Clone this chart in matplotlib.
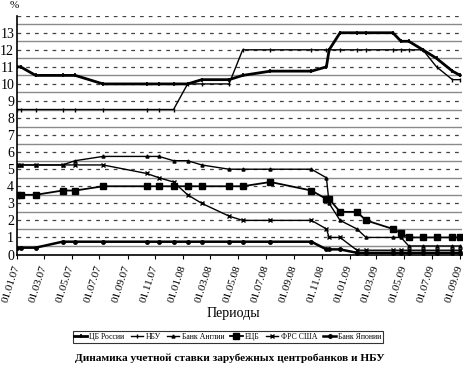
import matplotlib
matplotlib.use("Agg")
import matplotlib.pyplot as plt
import pandas as pd
import numpy as np

plt.rcParams['font.family'] = ['Liberation Serif', 'DejaVu Serif']

# ---- data ----
dates_cbr = ["2007-01-01","2007-01-09","2007-02-11","2007-04-11","2007-05-09","2007-07-09",
             "2007-10-13","2007-11-09","2007-12-11","2008-01-11","2008-02-11","2008-04-11",
             "2008-05-11","2008-07-11","2008-10-09","2008-11-11","2008-11-17","2008-12-11",
             "2009-01-17","2009-02-06","2009-04-06","2009-04-24","2009-05-11","2009-06-11",
             "2009-07-11","2009-08-15","2009-09-01"]
cbr = [11.0, 11.0, 10.5, 10.5, 10.5, 10.0, 10.0, 10.0, 10.0, 10.0, 10.25, 10.25,
       10.5, 10.75, 10.75, 11.0, 12.0, 13.0, 13.0, 13.0, 13.0, 12.5, 12.5, 12.0,
       11.5, 10.75, 10.5]

dates_common = ["2007-01-01","2007-01-09","2007-02-11","2007-04-11","2007-05-09","2007-07-09",
                "2007-10-13","2007-11-09","2007-12-11","2008-01-11","2008-02-11","2008-04-11",
                "2008-05-11","2008-07-11","2008-10-09","2008-11-11","2008-11-17","2008-12-11",
                "2009-01-17","2009-02-06","2009-04-06","2009-04-24","2009-05-11","2009-06-11",
                "2009-07-11","2009-08-15","2009-09-01"]
nbu = [8.5, 8.5, 8.5, 8.5, 8.5, 8.5, 8.5, 8.5, 8.5, 10.0, 10.0, 10.0,
       12.0, 12.0, 12.0, 12.0, 12.0, 12.0, 12.0, 12.0, 12.0, 12.0, 12.0, 12.0,
       11.0, 10.25, 10.25]
boe = [5.25, 5.25, 5.25, 5.25, 5.5, 5.75, 5.75, 5.75, 5.5, 5.5, 5.25, 5.0,
       5.0, 5.0, 5.0, 4.5, 3.0, 2.0, 1.5, 1.0, 1.0, 1.0, 0.5, 0.5,
       0.5, 0.5, 0.5]
ecb = [3.5, 3.5, 3.5, 3.75, 3.75, 4.0, 4.0, 4.0, 4.0, 4.0, 4.0, 4.0,
       4.0, 4.25, 3.75, 3.25, 3.25, 2.5, 2.5, 2.0, 1.5, 1.25, 1.0, 1.0,
       1.0, 1.0, 1.0]
fed = [5.25, 5.25, 5.25, 5.25, 5.25, 5.25, 4.75, 4.5, 4.25, 3.5, 3.0, 2.25,
       2.0, 2.0, 2.0, 1.5, 1.0, 1.0, 0.25, 0.25, 0.25, 0.25, 0.25, 0.25,
       0.25, 0.25, 0.25]
boj = [0.4, 0.4, 0.4, 0.75, 0.75, 0.75, 0.75, 0.75, 0.75, 0.75, 0.75, 0.75,
       0.75, 0.75, 0.75, 0.3, 0.3, 0.3, 0.1, 0.1, 0.1, 0.1, 0.1, 0.1,
       0.1, 0.1, 0.1]

series_names = ["ЦБ России", "НБУ", "Банк Англии", "ЕЦБ", "ФРС США", "Банк Японии"]
tick_dates = ["2007-01-01","2007-03-01","2007-05-01","2007-07-01","2007-09-01","2007-11-01",
              "2008-01-01","2008-03-01","2008-05-01","2008-07-01","2008-09-01","2008-11-01",
              "2009-01-01","2009-03-01","2009-05-01","2009-07-01","2009-09-01"]
tick_labels = ["01.01.07","01.03.07","01.05.07","01.07.07","01.09.07","01.11.07",
               "01.01.08","01.03.08","01.05.08","01.07.08","01.09.08","01.11.08",
               "01.01.09","01.03.09","01.05.09","01.07.09","01.09.09"]

# ---- figure ----
fig = plt.figure(figsize=(4.66, 3.79), dpi=100)
ax = fig.add_axes([17/466, 1-254.5/379, (462-17)/466, (254.5-15.7)/379])

xc = pd.to_datetime(dates_common)
xr = pd.to_datetime(dates_cbr)

styles = [
    (xr, cbr, dict(lw=2.0, marker='|', ms=3, mew=1.2)),
    (xc, nbu, dict(lw=1.0, marker='|', ms=2.5, mew=1.0)),
    (xc, boe, dict(lw=1.0, marker='^', ms=2.2)),
    (xc, ecb, dict(lw=1.3, marker='s', ms=3.8)),
    (xc, fed, dict(lw=1.0, marker='x', ms=3, mew=1.0)),
    (xc, boj, dict(lw=1.8, marker='o', ms=2.5)),
]
for (x, y, st), name in zip(styles, series_names):
    ax.plot(x, y, color='black', label=name, zorder=3, **st)

ax.set_ylim(0, 14)
ax.set_xlim(pd.Timestamp("2007-01-01"), pd.Timestamp("2009-09-05"))
ax.set_yticks(range(0, 14))
ax.tick_params(axis='y', labelsize=10, length=0, pad=2)
for v in range(1, 15):
    ax.axhline(v, color='#444444', lw=0.9, ls=(0, (3, 4)), zorder=1)
for v in np.arange(0.5, 14, 1.0):
    ax.axhline(v, color='#8a8a8a', lw=1.0, zorder=1)

ax.set_xticks(pd.to_datetime(tick_dates))
ax.set_xticklabels(tick_labels, rotation=72, ha='right', va='center',
                   rotation_mode='anchor', fontsize=8)
ax.tick_params(axis='x', length=3, pad=5)

for s in ['top', 'right']:
    ax.spines[s].set_visible(False)
ax.spines['left'].set_linewidth(1.2)
ax.spines['bottom'].set_linewidth(1.2)

fig.text(14/466, 1-6/379, "%", fontsize=8, ha='center', va='center')
fig.text(233/466, 1-314/379, "Периоды", fontsize=10, ha='center', va='center')

leg = fig.legend(loc='center', bbox_to_anchor=(228/466, 1-337/379), ncol=6,
                 prop=dict(family=['Liberation Serif'], size=5.6),
                 frameon=True, fancybox=False, edgecolor='black',
                 handlelength=1.6, handletextpad=0.3, columnspacing=0.8,
                 borderpad=0.25, borderaxespad=0)
leg.get_frame().set_linewidth(0.8)

fig.text(230/466, 1-358/379, "Динамика учетной ставки зарубежных центробанков и НБУ",
         ha='center', va='center', family=['Liberation Serif'], size=8.1, weight='bold')

fig.savefig("out.png", dpi=100)
